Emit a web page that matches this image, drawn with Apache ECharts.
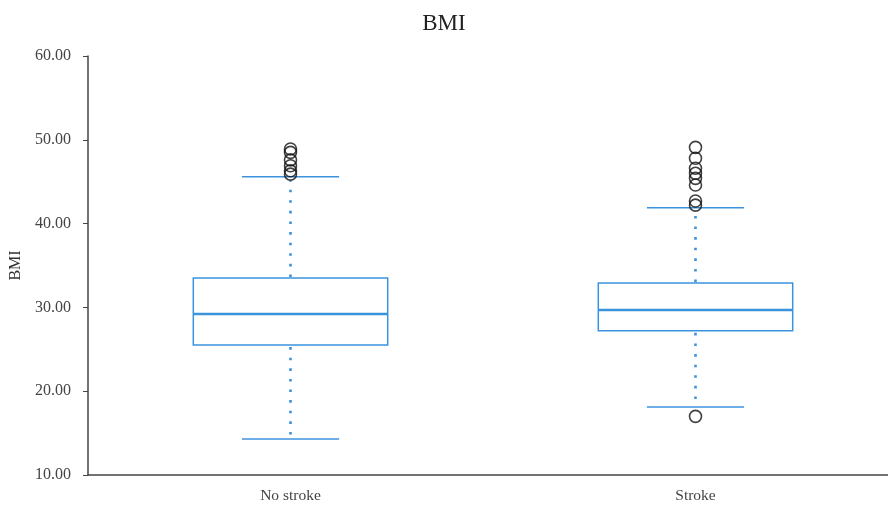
<!DOCTYPE html>
<html>
<head>
<meta charset="utf-8">
<script src="https://cdn.jsdelivr.net/npm/echarts@6/dist/echarts.min.js"></script>
<style>
  html, body { margin: 0; padding: 0; background: #fff; }
  #chart { width: 888px; height: 506px; }
</style>
</head>
<body>
<div id="chart"></div>
<script>
// Stroke status groups
const categories = ['No stroke', 'Stroke'];

// Five-number summaries per group
const lowerWhisker = [14.3, 18.1];
const q1Values = [25.5, 27.2];
const medianValues = [29.2, 29.7];
const q3Values = [33.5, 32.9];
const upperWhisker = [45.6, 41.9];

// Outlying observations per group
const outliersNoStroke = [48.9, 48.5, 47.6, 46.9, 46.3, 45.9];
const outliersStroke = [49.1, 47.8, 46.6, 46.0, 45.4, 44.6, 42.7, 42.2, 17.0];

// Y axis ticks
const yTicks = [10, 20, 30, 40, 50, 60];

const boxColor = '#3b93dd';
const serif = '"Liberation Serif", "DejaVu Serif", serif';

const boxData = categories.map((c, i) => [i, lowerWhisker[i], q1Values[i], medianValues[i], q3Values[i], upperWhisker[i]]);
const outlierData = []
  .concat(outliersNoStroke.map(v => [categories[0], v]))
  .concat(outliersStroke.map(v => [categories[1], v]));

// Box, median, dotted whiskers and solid caps for one group
function renderBox(params, api) {
  const idx = api.value(0);
  const lo = api.coord([idx, api.value(1)]);
  const qa = api.coord([idx, api.value(2)]);
  const md = api.coord([idx, api.value(3)]);
  const qb = api.coord([idx, api.value(4)]);
  const hi = api.coord([idx, api.value(5)]);
  const band = api.size([1, 0])[0];
  const bw = band * 0.48;
  const cw = bw * 0.5;
  const cx = lo[0];
  const solid = { stroke: boxColor, lineWidth: 1.5, fill: null };
  const dotted = { stroke: boxColor, lineWidth: 2.6, lineDash: [2.6, 8], fill: null };
  return {
    type: 'group',
    children: [
      { type: 'line', shape: { x1: cx, y1: qb[1] - 1, x2: cx, y2: hi[1] + 4 }, style: dotted },
      { type: 'line', shape: { x1: cx, y1: qa[1] + 2, x2: cx, y2: lo[1] - 4 }, style: dotted },
      { type: 'line', shape: { x1: cx - cw / 2, y1: hi[1], x2: cx + cw / 2, y2: hi[1] }, style: solid },
      { type: 'line', shape: { x1: cx - cw / 2, y1: lo[1], x2: cx + cw / 2, y2: lo[1] }, style: solid },
      { type: 'rect', shape: { x: cx - bw / 2, y: qb[1], width: bw, height: qa[1] - qb[1] }, style: solid },
      { type: 'line', shape: { x1: cx - bw / 2, y1: md[1], x2: cx + bw / 2, y2: md[1] }, style: { stroke: boxColor, lineWidth: 2.5 } }
    ]
  };
}

const chart = echarts.init(document.getElementById('chart'), null, { renderer: 'canvas' });
chart.setOption({
  backgroundColor: '#ffffff',
  animation: false,
  title: {
    text: 'BMI',
    left: 'center',
    top: 7,
    textStyle: { fontFamily: serif, fontSize: 23, fontWeight: 'normal', color: '#222' }
  },
  grid: { left: 88, right: -10, top: 56, bottom: 31, containLabel: false, outerBoundsMode: 'none' },
  xAxis: {
    type: 'category',
    data: categories,
    boundaryGap: true,
    axisLine: { lineStyle: { color: '#444', width: 1.5 } },
    axisTick: { alignWithLabel: true, length: 4, lineStyle: { color: '#444' } },
    axisLabel: { fontFamily: serif, fontSize: 15.5, color: '#444', margin: 13 },
    splitLine: { show: false }
  },
  yAxis: {
    type: 'value',
    min: yTicks[0],
    max: yTicks[yTicks.length - 1],
    interval: 10,
    name: 'BMI',
    nameLocation: 'middle',
    nameRotate: 90,
    nameGap: 62,
    nameTextStyle: { fontFamily: serif, fontSize: 16, color: '#333' },
    axisLine: { show: true, lineStyle: { color: '#444', width: 1.5 } },
    axisTick: { show: true, length: 5, lineStyle: { color: '#444' } },
    axisLabel: { fontFamily: serif, fontSize: 16, color: '#444', margin: 17, formatter: v => v.toFixed(2) },
    splitLine: { show: false }
  },
  series: [
    {
      type: 'custom',
      renderItem: renderBox,
      encode: { x: 0, y: [1, 2, 3, 4, 5] },
      data: boxData,
      z: 2
    },
    {
      type: 'scatter',
      data: outlierData,
      symbol: 'circle',
      symbolSize: 12,
      itemStyle: { color: 'rgba(255,255,255,0)', borderColor: '#111', borderWidth: 1.6 },
      z: 3
    }
  ]
});
</script>
</body>
</html>
